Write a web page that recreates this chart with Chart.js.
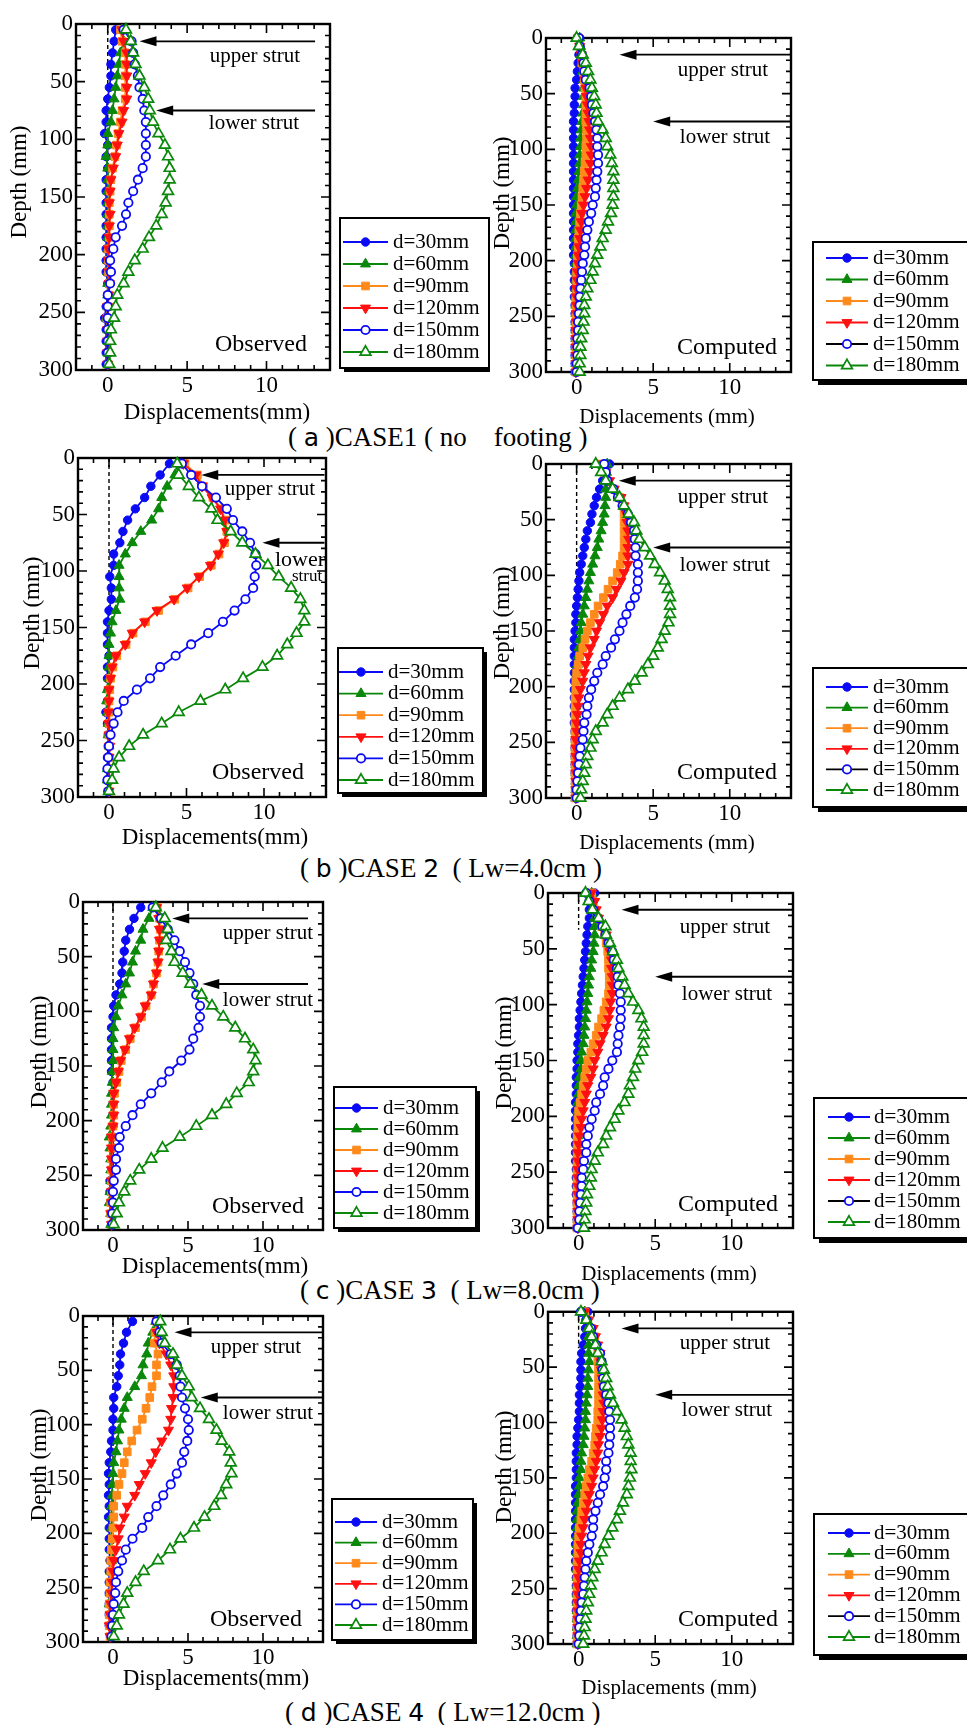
<!DOCTYPE html>
<html>
<head>
<meta charset="utf-8">
<script src="https://cdn.jsdelivr.net/npm/chart.js@4.4.1/dist/chart.umd.min.js"></script>
<style>
    body { margin: 0; background: #fff; width: 967px; height: 1725px; position: relative; overflow: hidden; }
    canvas { position: absolute; }
    .cap { position: absolute; font: 27px "Liberation Serif"; line-height: 30px; white-space: nowrap; color: #000; }
    .cap .g { font-family: "DejaVu Sans"; font-size: 25px; }
</style>
</head>
<body>
<div class="cap" style="left:288px;top:422px">( <span class="g">a</span> )CASE1 ( no&nbsp;&nbsp;&nbsp;&nbsp;footing )</div>
<div class="cap" style="left:300px;top:853px">( <span class="g">b</span> )CASE <span class="g">2</span> &nbsp;( Lw=4.0cm )</div>
<div class="cap" style="left:300px;top:1275px">( <span class="g">c</span> )CASE <span class="g">3</span> &nbsp;( Lw=8.0cm )</div>
<div class="cap" style="left:285px;top:1697px">( <span class="g">d</span> )CASE <span class="g">4</span> &nbsp;( Lw=12.0cm )</div>
<script>
'use strict';

const seriesLabels = ['d=30mm', 'd=60mm', 'd=90mm', 'd=120mm', 'd=150mm', 'd=180mm'];
const xTickValues = [0, 5, 10];

// measured depths (mm)
const obsDepth = [5, 15, 25, 35, 45, 55, 65, 75, 85, 95, 105, 115, 125, 135, 145, 155, 165, 175, 185, 195,
    205, 215, 225, 235, 245, 255, 265, 275, 285, 295];
// FEM output depths (mm)
const compDepth = [0, 7.5, 15, 22.5, 30, 37.5, 45, 52.5, 60, 67.5, 75, 82.5, 90, 97.5, 105, 112.5, 120, 127.5, 135, 142.5,
    150, 157.5, 165, 172.5, 180, 187.5, 195, 202.5, 210, 217.5, 225, 232.5, 240, 247.5, 255, 262.5, 270, 277.5, 285, 292.5, 300];

// CASE1 observed
const obsA30 = [0.5, 0.4, 0.3, 0.2, 0.2, 0.1, 0.0, -0.1, -0.1, -0.2, 0.0, -0.1, 0.0, -0.1, -0.1, -0.1, -0.1, -0.1, -0.1, -0.1, -0.1, -0.1, 0.0, 0.0, -0.1, -0.2, -0.1, -0.1, -0.1, -0.1];
const obsA60 = [0.9, 1.0, 0.8, 0.7, 0.6, 0.5, 0.4, 0.3, 0.2, 0.0, 0.0, -0.1, 0.0, 0.0, 0.0, 0.0, 0.0, 0.0, 0.0, 0.0, 0.0, 0.0, 0.0, 0.0, 0.0, -0.1, 0.0, 0.0, 0.0, 0.0];
const obsA90 = [0.8, 0.9, 1.1, 1.1, 1.1, 1.1, 1.1, 0.9, 0.8, 0.65, 0.55, 0.45, 0.3, 0.2, 0.15, 0.1, 0.1, 0.1, 0.1, 0.05, 0.05, 0.05, 0.1, 0.05, 0.0, -0.05, 0.0, 0.0, 0.0, 0.0];
const obsA120 = [0.9, 1.0, 1.2, 1.2, 1.2, 1.2, 1.2, 1.0, 0.9, 0.7, 0.6, 0.5, 0.35, 0.2, 0.15, 0.1, 0.15, 0.1, 0.1, 0.05, 0.05, 0.1, 0.1, 0.05, 0.0, 0.0, 0.0, 0.0, 0.0, 0.0];
const obsA150 = [1.0, 1.5, 1.6, 1.7, 1.9, 2.0, 2.2, 2.3, 2.4, 2.4, 2.4, 2.4, 2.2, 1.9, 1.6, 1.3, 1.15, 0.9, 0.5, 0.35, 0.15, 0.2, 0.15, 0.0, 0.0, 0.0, 0.0, 0.0, 0.0, 0.0];
const obsA180 = [1.15, 1.45, 1.6, 1.75, 2.0, 2.3, 2.55, 2.65, 2.85, 3.2, 3.6, 3.8, 3.9, 3.9, 3.8, 3.65, 3.4, 3.05, 2.6, 2.2, 1.7, 1.3, 1.0, 0.6, 0.5, 0.4, 0.2, 0.15, 0.15, 0.1];

// CASE1 computed
const compA30 = [0.2, 0.2, 0.15, 0.1, 0.05, 0.0, -0.1, -0.1, -0.15, -0.15, -0.2, -0.2, -0.2, -0.2, -0.2, -0.2, -0.2, -0.2, -0.2, -0.2,
    -0.2, -0.2, -0.2, -0.2, -0.2, -0.2, -0.2, -0.15, -0.15, -0.15, -0.15, -0.15, -0.1, -0.1, -0.1, -0.1, -0.1, -0.1, -0.1, -0.1, -0.1];
const compA60 = [0.2, 0.25, 0.3, 0.35, 0.4, 0.45, 0.45, 0.45, 0.45, 0.4, 0.35, 0.3, 0.25, 0.25, 0.2, 0.2, 0.15, 0.1, 0.05, 0.0,
    0.0, -0.05, -0.05, -0.05, -0.05, -0.05, -0.05, -0.05, -0.05, -0.05, -0.05, -0.05, -0.05, -0.05, -0.05, -0.05, -0.05, -0.05, -0.05, -0.05, -0.05];
const compA90 = [0.1, 0.2, 0.3, 0.35, 0.45, 0.5, 0.55, 0.6, 0.6, 0.6, 0.6, 0.65, 0.65, 0.6, 0.6, 0.55, 0.5, 0.45, 0.4, 0.35,
    0.3, 0.25, 0.2, 0.15, 0.1, 0.1, 0.05, 0.05, 0.0, 0.0, 0.0, -0.05, -0.05, -0.05, -0.05, -0.05, -0.05, -0.05, -0.05, -0.05, -0.05];
const compA120 = [0.1, 0.2, 0.3, 0.4, 0.5, 0.55, 0.6, 0.65, 0.7, 0.75, 0.8, 0.85, 0.9, 0.95, 0.95, 0.9, 0.85, 0.75, 0.65, 0.55,
    0.45, 0.35, 0.3, 0.25, 0.2, 0.15, 0.1, 0.1, 0.05, 0.05, 0.0, 0.0, 0.0, 0.0, 0.0, -0.05, -0.05, -0.05, -0.05, -0.05, -0.05];
const compA150 = [0.15, 0.2, 0.35, 0.45, 0.5, 0.6, 0.85, 0.95, 1.0, 1.1, 1.2, 1.3, 1.35, 1.35, 1.4, 1.4, 1.35, 1.3, 1.25, 1.2,
    1.05, 0.95, 0.8, 0.7, 0.6, 0.55, 0.5, 0.4, 0.35, 0.3, 0.25, 0.2, 0.2, 0.15, 0.1, 0.1, 0.05, 0.05, 0.05, 0.0, 0.0];
const compA180 = [0.0, 0.15, 0.4, 0.6, 0.75, 0.9, 1.0, 1.15, 1.25, 1.3, 1.4, 1.7, 1.9, 2.0, 2.2, 2.3, 2.4, 2.4, 2.4, 2.4,
    2.35, 2.25, 2.05, 1.9, 1.7, 1.55, 1.35, 1.2, 1.05, 0.9, 0.7, 0.6, 0.5, 0.5, 0.45, 0.4, 0.3, 0.25, 0.25, 0.2, 0.2];

// CASE2 observed
const obsB30 = [3.9, 3.3, 2.7, 2.3, 1.7, 1.2, 0.9, 0.7, 0.3, 0.3, 0.05, 0.15, 0.15, 0.0, -0.1, -0.1, -0.1, 0.0, -0.1, -0.1, -0.05, -0.1, -0.2, -0.1, -0.05, -0.05, -0.1, -0.1, -0.1, -0.05];
const obsB60 = [4.4, 4.25, 3.75, 3.4, 3.2, 2.75, 2.05, 1.5, 1.05, 0.65, 0.65, 0.65, 0.7, 0.45, 0.2, 0.1, 0.0, 0.0, 0.0, 0.0, -0.1, -0.15, -0.1, -0.05, -0.05, 0.0, 0.0, -0.1, -0.1, 0.0];
const obsB90 = [4.9, 5.7, 6.1, 6.7, 7.25, 7.5, 7.6, 7.45, 7.1, 6.6, 5.85, 5.1, 4.25, 3.2, 2.35, 1.55, 1.1, 0.5, 0.25, 0.1, 0.05, 0.0, 0.0, 0.0, 0.0, 0.0, 0.0, 0.0, 0.0, 0.0];
const obsB120 = [4.8, 5.6, 6.0, 6.65, 7.2, 7.45, 7.6, 7.4, 7.05, 6.55, 5.8, 5.05, 4.2, 3.1, 2.3, 1.5, 1.05, 0.45, 0.2, 0.1, 0.0, 0.0, -0.05, 0.0, 0.0, 0.05, 0.0, 0.0, 0.0, 0.0];
const obsB150 = [4.7, 5.3, 6.0, 6.9, 7.6, 8.0, 8.6, 9.1, 9.45, 9.5, 9.4, 9.3, 8.8, 8.1, 7.35, 6.4, 5.3, 4.3, 3.3, 2.65, 1.8, 0.95, 0.55, 0.3, 0.1, 0.0, -0.05, -0.1, -0.1, -0.05];
const obsB180 = [4.4, 4.5, 5.15, 5.8, 6.6, 7.0, 7.85, 8.6, 9.45, 10.25, 10.95, 11.75, 12.35, 12.6, 12.6, 12.1, 11.5, 10.85, 9.9, 8.65, 7.5, 5.9, 4.5, 3.4, 2.2, 1.3, 0.65, 0.3, 0.2, 0.0];

// CASE2 computed
const compB30 = [2.15, 1.9, 1.7, 1.5, 1.3, 1.15, 1.0, 0.9, 0.7, 0.6, 0.5, 0.4, 0.3, 0.2, 0.15, 0.1, 0.05, 0.0, -0.05, -0.05,
    -0.1, -0.15, -0.15, -0.15, -0.15, -0.15, -0.15, -0.15, -0.15, -0.15, -0.15, -0.15, -0.1, -0.1, -0.1, -0.1, -0.1, -0.1, -0.05, -0.05, -0.05];
const compB60 = [2.0, 1.95, 1.9, 1.9, 1.9, 1.85, 1.8, 1.7, 1.6, 1.45, 1.35, 1.2, 1.05, 0.9, 0.8, 0.7, 0.6, 0.5, 0.4, 0.3,
    0.25, 0.2, 0.15, 0.1, 0.05, 0.0, 0.0, -0.05, -0.05, -0.05, -0.05, -0.05, -0.05, -0.05, -0.05, -0.05, -0.05, -0.05, -0.05, -0.05, -0.05];
const compB90 = [1.6, 1.8, 2.0, 2.4, 2.8, 3.0, 3.1, 3.1, 3.1, 3.1, 3.1, 3.0, 2.85, 2.65, 2.35, 2.05, 1.75, 1.4, 1.15, 0.9,
    0.7, 0.55, 0.4, 0.2, 0.1, 0.0, -0.05, -0.05, -0.1, -0.1, -0.1, -0.1, -0.1, -0.1, -0.1, -0.1, -0.1, -0.1, -0.1, -0.1, -0.1];
const compB120 = [1.6, 1.9, 2.15, 2.45, 2.9, 3.1, 3.25, 3.3, 3.35, 3.4, 3.35, 3.35, 3.35, 3.1, 2.9, 2.6, 2.35, 2.0, 1.75, 1.5,
    1.3, 1.15, 0.9, 0.75, 0.6, 0.5, 0.4, 0.25, 0.15, 0.1, 0.05, 0.0, 0.0, -0.05, -0.05, -0.05, -0.05, -0.05, -0.05, -0.05, -0.05];
const compB150 = [1.8, 1.9, 2.0, 2.4, 2.7, 3.0, 3.35, 3.55, 3.75, 3.8, 3.85, 3.85, 4.0, 4.0, 4.0, 3.95, 3.8, 3.5, 3.25, 3.0,
    2.8, 2.5, 2.25, 1.9, 1.7, 1.35, 1.15, 0.95, 0.8, 0.7, 0.65, 0.5, 0.45, 0.4, 0.25, 0.2, 0.15, 0.1, 0.05, 0.0, 0.0];
const compB180 = [1.25, 1.6, 1.9, 2.35, 2.8, 3.1, 3.4, 3.75, 3.9, 4.1, 4.45, 4.8, 5.1, 5.45, 5.75, 5.95, 6.1, 6.1, 6.1, 6.0,
    5.75, 5.55, 5.3, 5.0, 4.65, 4.25, 3.8, 3.35, 2.8, 2.35, 2.0, 1.7, 1.25, 1.05, 0.9, 0.7, 0.6, 0.5, 0.4, 0.3, 0.25];

// CASE3 observed
const obsC30 = [1.85, 1.4, 1.1, 0.85, 0.75, 0.65, 0.6, 0.45, 0.2, 0.05, 0.0, -0.1, -0.1, -0.1, -0.1, -0.1, 0.0, 0.0, 0.0, 0.0, 0.0, 0.0, 0.0, 0.0, 0.0, -0.2, -0.2, -0.1, -0.1, -0.1];
const obsC60 = [2.65, 2.4, 2.0, 1.85, 1.5, 1.3, 1.1, 0.85, 0.6, 0.35, 0.2, 0.05, 0.0, 0.0, 0.0, -0.05, -0.05, -0.1, -0.1, -0.1, -0.15, -0.25, -0.2, -0.15, -0.15, -0.15, -0.2, -0.25, -0.15, -0.15];
const obsC90 = [2.95, 3.1, 3.15, 3.1, 3.05, 3.0, 2.9, 2.7, 2.55, 2.2, 1.9, 1.5, 1.15, 0.85, 0.55, 0.4, 0.25, 0.1, 0.05, 0.05, 0.0, -0.05, -0.05, -0.1, -0.1, -0.1, -0.1, -0.15, -0.15, -0.1];
const obsC120 = [2.9, 3.05, 3.1, 3.1, 3.05, 3.0, 2.9, 2.7, 2.55, 2.15, 1.85, 1.45, 1.1, 0.8, 0.5, 0.35, 0.2, 0.05, 0.05, 0.05, 0.0, -0.1, -0.1, -0.1, -0.1, -0.1, -0.1, -0.1, -0.15, -0.1];
const obsC150 = [2.65, 3.2, 3.65, 4.1, 4.45, 4.8, 5.1, 5.35, 5.55, 5.8, 5.8, 5.7, 5.35, 5.1, 4.55, 3.75, 3.25, 2.55, 1.85, 1.3, 0.85, 0.45, 0.4, 0.2, 0.2, 0.05, 0.0, 0.0, -0.05, -0.05];
const obsC180 = [2.85, 3.45, 3.65, 3.55, 3.9, 4.1, 4.65, 5.15, 5.9, 6.6, 7.35, 8.15, 8.8, 9.35, 9.5, 9.35, 9.05, 8.25, 7.55, 6.6, 5.55, 4.45, 3.3, 2.55, 1.75, 1.15, 0.75, 0.4, 0.25, 0.05];

// CASE3 computed
const compC30 = [1.05, 0.85, 0.7, 0.7, 0.6, 0.55, 0.5, 0.45, 0.4, 0.35, 0.3, 0.25, 0.2, 0.15, 0.1, 0.05, 0.05, 0.0, -0.05, -0.05,
    -0.1, -0.1, -0.15, -0.15, -0.15, -0.2, -0.2, -0.2, -0.2, -0.2, -0.2, -0.2, -0.2, -0.15, -0.15, -0.15, -0.15, -0.1, -0.1, -0.1, -0.1];
const compC60 = [0.85, 0.85, 0.95, 1.05, 1.05, 1.05, 1.0, 0.95, 0.85, 0.8, 0.7, 0.65, 0.6, 0.55, 0.5, 0.45, 0.4, 0.35, 0.3, 0.2,
    0.15, 0.15, 0.05, 0.0, 0.0, -0.05, -0.05, -0.05, -0.05, -0.05, -0.05, -0.05, -0.05, -0.05, -0.05, -0.05, -0.05, -0.05, -0.05, -0.05, -0.05];
const compC90 = [0.85, 0.95, 1.05, 1.25, 1.5, 1.7, 1.8, 1.9, 1.95, 1.95, 2.0, 2.0, 1.95, 1.8, 1.65, 1.5, 1.3, 1.15, 0.95, 0.8,
    0.6, 0.5, 0.4, 0.3, 0.2, 0.1, 0.0, -0.05, -0.05, -0.1, -0.1, -0.1, -0.1, -0.1, -0.1, -0.1, -0.1, -0.1, -0.1, -0.1, -0.1];
const compC120 = [0.85, 1.05, 1.15, 1.3, 1.55, 1.8, 1.95, 2.05, 2.15, 2.15, 2.2, 2.2, 2.2, 2.1, 2.05, 1.95, 1.8, 1.6, 1.4, 1.25,
    1.05, 0.95, 0.8, 0.6, 0.5, 0.4, 0.3, 0.2, 0.15, 0.05, 0.0, -0.05, -0.05, -0.05, -0.05, -0.05, -0.05, -0.05, -0.05, -0.05, -0.05];
const compC150 = [0.5, 0.7, 0.95, 1.25, 1.55, 1.75, 1.95, 2.2, 2.3, 2.5, 2.55, 2.6, 2.7, 2.75, 2.75, 2.75, 2.7, 2.6, 2.55, 2.5,
    2.2, 1.95, 1.7, 1.6, 1.4, 1.15, 1.05, 0.85, 0.7, 0.6, 0.5, 0.5, 0.35, 0.3, 0.2, 0.2, 0.15, 0.1, 0.05, 0.05, -0.05];
const compC180 = [0.45, 0.65, 0.9, 1.3, 1.75, 1.8, 2.05, 2.25, 2.5, 2.6, 2.85, 3.0, 3.25, 3.55, 3.9, 4.1, 4.25, 4.25, 4.25, 4.15,
    3.9, 3.7, 3.55, 3.35, 3.25, 3.0, 2.6, 2.35, 2.05, 1.8, 1.6, 1.25, 1.05, 0.85, 0.8, 0.7, 0.55, 0.5, 0.45, 0.4, 0.35];

// CASE4 observed
const obsD30 = [1.3, 0.9, 0.7, 0.5, 0.45, 0.35, 0.25, 0.05, 0.05, 0.0, 0.0, -0.1, -0.15, -0.25, -0.3, -0.25, -0.3, -0.25, -0.3, -0.25, -0.25, -0.25, -0.2, -0.25, -0.25, -0.25, -0.25, -0.25, -0.25, -0.15];
const obsD60 = [2.85, 2.65, 2.35, 2.25, 2.0, 1.9, 1.45, 0.95, 0.75, 0.55, 0.4, 0.3, 0.2, 0.05, 0.0, -0.05, -0.05, -0.1, -0.1, -0.1, -0.1, -0.1, -0.1, -0.15, -0.15, -0.2, -0.25, -0.15, -0.1, -0.05];
const obsD90 = [2.9, 2.8, 2.75, 3.0, 2.9, 2.9, 2.6, 2.45, 2.2, 1.95, 1.6, 1.25, 0.95, 0.75, 0.6, 0.4, 0.25, 0.05, 0.05, 0.0, -0.05, -0.1, -0.15, -0.15, -0.2, -0.2, -0.25, -0.25, -0.25, -0.2];
const obsD120 = [3.0, 2.9, 3.1, 3.55, 3.85, 4.05, 4.05, 4.0, 3.9, 3.85, 3.7, 3.25, 2.85, 2.55, 2.15, 1.75, 1.45, 0.95, 0.75, 0.45, 0.35, 0.2, 0.05, 0.0, -0.05, -0.1, -0.15, -0.2, -0.25, -0.2];
const obsD150 = [2.9, 3.1, 3.25, 3.85, 4.25, 4.45, 4.5, 4.6, 4.8, 5.0, 5.05, 4.95, 4.75, 4.6, 4.25, 3.85, 3.35, 2.9, 2.35, 1.95, 1.3, 0.85, 0.6, 0.35, 0.2, 0.15, 0.05, 0.0, -0.05, -0.1];
const obsD180 = [3.15, 3.25, 3.45, 4.0, 4.25, 4.6, 5.05, 5.25, 5.8, 6.4, 6.9, 7.25, 7.75, 7.85, 7.9, 7.55, 7.2, 6.75, 6.1, 5.4, 4.5, 3.8, 3.0, 2.05, 1.5, 0.95, 0.7, 0.4, 0.25, 0.05];

// CASE4 computed
const compD30 = [0.6, 0.5, 0.45, 0.4, 0.3, 0.2, 0.15, 0.15, 0.15, 0.1, 0.05, 0.05, 0.05, 0.0, -0.05, -0.1, -0.1, -0.15, -0.15, -0.15,
    -0.15, -0.2, -0.2, -0.2, -0.2, -0.2, -0.2, -0.2, -0.2, -0.2, -0.2, -0.2, -0.15, -0.15, -0.15, -0.15, -0.15, -0.1, -0.1, -0.1, -0.1];
const compD60 = [0.4, 0.5, 0.6, 0.65, 0.65, 0.65, 0.7, 0.65, 0.6, 0.6, 0.55, 0.5, 0.45, 0.45, 0.4, 0.35, 0.3, 0.2, 0.15, 0.15,
    0.05, 0.05, 0.0, -0.05, -0.1, -0.1, -0.1, -0.1, -0.1, -0.1, -0.1, -0.1, -0.1, -0.1, -0.1, -0.1, -0.1, -0.1, -0.1, -0.1, -0.1];
const compD90 = [0.4, 0.6, 0.85, 1.05, 1.15, 1.25, 1.25, 1.3, 1.3, 1.3, 1.3, 1.3, 1.25, 1.25, 1.15, 1.1, 1.05, 0.95, 0.85, 0.7,
    0.6, 0.5, 0.4, 0.3, 0.2, 0.15, 0.05, 0.0, -0.05, -0.05, -0.1, -0.1, -0.1, -0.1, -0.1, -0.1, -0.1, -0.1, -0.1, -0.1, -0.1];
const compD120 = [0.4, 0.65, 0.95, 1.1, 1.25, 1.4, 1.45, 1.5, 1.55, 1.6, 1.6, 1.65, 1.6, 1.55, 1.5, 1.4, 1.3, 1.25, 1.15, 1.05,
    0.95, 0.85, 0.7, 0.6, 0.5, 0.4, 0.3, 0.2, 0.15, 0.15, 0.05, 0.0, 0.0, -0.05, -0.05, -0.05, -0.05, -0.05, -0.05, -0.05, -0.05];
const compD150 = [0.15, 0.5, 0.8, 0.95, 1.15, 1.4, 1.5, 1.55, 1.6, 1.65, 1.8, 1.95, 2.0, 2.05, 2.05, 2.05, 2.0, 1.95, 1.8, 1.8,
    1.7, 1.6, 1.4, 1.25, 1.1, 0.95, 0.95, 0.85, 0.7, 0.6, 0.5, 0.45, 0.4, 0.35, 0.3, 0.2, 0.15, 0.1, 0.05, 0.05, 0.0];
const compD180 = [0.15, 0.5, 0.7, 0.85, 1.1, 1.25, 1.5, 1.65, 1.8, 1.9, 2.05, 2.25, 2.5, 2.8, 3.0, 3.15, 3.25, 3.4, 3.4, 3.45,
    3.35, 3.25, 3.15, 2.9, 2.7, 2.5, 2.2, 1.95, 1.7, 1.5, 1.25, 1.05, 0.9, 0.8, 0.7, 0.6, 0.5, 0.45, 0.4, 0.35, 0.3];


const BLUE = '#0a0af5', GREEN = '#0a880a', ORANGE = '#ff8a1c', RED = '#ff1010';

// marker look per series, same order as seriesLabels
const looks = [
    { color: BLUE, fill: BLUE, style: 'circle', r: 4.2, rot: 0, bw: 1 },
    { color: GREEN, fill: GREEN, style: 'triangle', r: 5.8, rot: 0, bw: 1 },
    { color: ORANGE, fill: ORANGE, style: 'rect', r: 5.4, rot: 0, bw: 1 },
    { color: RED, fill: RED, style: 'triangle', r: 5.8, rot: 180, bw: 1 },
    { color: BLUE, fill: '#fff', style: 'circle', r: 4.2, rot: 0, bw: 1.8 },
    { color: GREEN, fill: '#fff', style: 'triangle', r: 6.2, rot: 0, bw: 1.7 }
];

// page layout of the eight panels (pixel positions are page coordinates)
const panels = [
    { computed: false, series: [obsA30, obsA60, obsA90, obsA120, obsA150, obsA180],
        cv: [0, 0, 490, 428], plot: [76, 24, 330, 370], zero: [0, 300],
        arrows: [[15, 13.06, 2.0], [75, 13.06, 3.05]],
        xTitle: [217, 413], yTitle: [20, 182], tag: [261, 345], upper: [255, 56], lower: [254, 123],
        legend: { box: [340, 218, 149, 150], row0: 242, step: 22, line: [343, 388], text: 393, shadow: 4 } },
    { computed: true, series: [compA30, compA60, compA90, compA120, compA150, compA180],
        cv: [490, 0, 477, 428], plot: [546, 38, 791, 372], zero: [0, 33],
        arrows: [[15, 14, 2.8], [75, 14, 5.0]],
        xTitle: [667, 417], yTitle: [503, 193], tag: [727, 348], upper: [723, 70], lower: [725, 137],
        legend: { box: [813, 242, 160, 138], row0: 258, step: 21.5, line: [826, 868], text: 873, shadow: 5 } },
    { computed: false, series: [obsB30, obsB60, obsB90, obsB120, obsB150, obsB180],
        cv: [0, 440, 490, 420], plot: [78, 458, 326, 797], zero: [0, 300],
        arrows: [[15, 13.9, 5.95], [75, 13.9, 9.9]],
        xTitle: [215, 838], yTitle: [33, 613], tag: [258, 773], upper: [270, 489], lowerSplit: [[300, 560], [307, 577]],
        legend: { box: [338, 648, 145, 145], row0: 672, step: 21.6, line: [339, 383], text: 388, shadow: 4 } },
    { computed: true, series: [compB30, compB60, compB90, compB120, compB150, compB180],
        cv: [490, 440, 477, 420], plot: [546, 464, 791, 798], zero: [0, 300],
        arrows: [[15, 14, 2.75], [75, 14, 5.0]],
        xTitle: [667, 843], yTitle: [503, 623], tag: [727, 773], upper: [723, 497], lower: [725, 565],
        legend: { box: [813, 668, 160, 139], row0: 687, step: 20.6, line: [826, 868], text: 873, shadow: 5 } },
    { computed: false, series: [obsC30, obsC60, obsC90, obsC120, obsC150, obsC180],
        cv: [0, 870, 490, 418], plot: [83, 902, 323, 1230], zero: [0, 300],
        arrows: [[15, 13.0, 3.95], [75, 13.0, 5.95]],
        xTitle: [215, 1267], yTitle: [40, 1052], tag: [258, 1207], upper: [268, 933], lower: [268, 1000],
        legend: { box: [334, 1087, 142, 141], row0: 1108, step: 21, line: [335, 378], text: 383, shadow: 4 } },
    { computed: true, series: [compC30, compC60, compC90, compC120, compC150, compC180],
        cv: [490, 870, 477, 418], plot: [548, 893, 793, 1228], zero: [0, 33],
        arrows: [[15, 14, 2.8], [75, 14, 5.0]],
        xTitle: [669, 1274], yTitle: [505, 1053], tag: [728, 1205], upper: [725, 927], lower: [727, 994],
        legend: { box: [814, 1098, 160, 140], row0: 1117, step: 21, line: [828, 870], text: 874, shadow: 5 } },
    { computed: false, series: [obsD30, obsD60, obsD90, obsD120, obsD150, obsD180],
        cv: [0, 1295, 490, 410], plot: [83, 1316, 323, 1642], zero: [0, 300],
        arrows: [[15, 14, 4.1], [75, 14, 5.85]],
        xTitle: [216, 1679], yTitle: [40, 1465], tag: [256, 1620], upper: [256, 1347], lower: [268, 1413],
        legend: { box: [332, 1499, 141, 141], row0: 1522, step: 20.6, line: [335, 377], text: 382, shadow: 4 } },
    { computed: true, series: [compD30, compD60, compD90, compD120, compD150, compD180],
        cv: [490, 1295, 477, 410], plot: [548, 1311, 793, 1644], zero: [0, 33],
        arrows: [[15, 14, 2.8], [75, 14, 5.0]],
        xTitle: [669, 1688], yTitle: [505, 1467], tag: [728, 1620], upper: [725, 1343], lower: [727, 1410],
        legend: { box: [814, 1514, 160, 141], row0: 1533, step: 20.8, line: [828, 870], text: 874, shadow: 5 } }
];

const SERIF = '"Liberation Serif", "Times New Roman", serif';
const Y_AXIS_W = 40, X_AXIS_H = 30;

function lineColorOf(p, i) {
    // the d=150mm computed curve is drawn with a black line
    return (p.computed && i === 4) ? '#000' : looks[i].color;
}

function buildDatasets(p) {
    const depth = p.computed ? compDepth : obsDepth;
    const sets = p.series.map((vals, i) => {
        const lk = looks[i];
        return {
            label: seriesLabels[i],
            data: vals.map((v, j) => ({ x: v, y: depth[j] })),
            showLine: true,
            borderColor: lineColorOf(p, i),
            borderWidth: 1.8,
            pointStyle: lk.style,
            pointRadius: lk.r,
            pointRotation: lk.rot,
            pointBackgroundColor: lk.fill,
            pointBorderColor: lk.color,
            pointBorderWidth: lk.bw,
            order: 6 - i,
            clip: false
        };
    });
    // dashed zero-displacement reference
    sets.push({
        label: 'zero',
        data: [{ x: 0, y: p.zero[0] }, { x: 0, y: p.zero[1] }],
        showLine: true, borderColor: '#000', borderWidth: 1.4, borderDash: [4, 3],
        pointRadius: 0, order: 20, clip: false
    });
    return sets;
}

function text(ctx, str, x, y, size, align, rotate) {
    ctx.save();
    ctx.font = size + 'px ' + SERIF;
    ctx.fillStyle = '#000';
    ctx.textAlign = align || 'center';
    ctx.textBaseline = 'middle';
    ctx.translate(x, y);
    if (rotate)
        ctx.rotate(rotate);
    ctx.fillText(str, 0, 0);
    ctx.restore();
}

function marker(ctx, lk, x, y) {
    ctx.fillStyle = lk.fill;
    ctx.strokeStyle = lk.color;
    ctx.lineWidth = lk.bw;
    Chart.helpers.drawPoint(ctx, { pointStyle: lk.style, radius: lk.r, rotation: lk.rot, borderWidth: lk.bw }, x, y);
}

function decor(p) {
    const px = v => v - p.cv[0];
    const py = v => v - p.cv[1];
    return {
        id: 'decor',
        beforeDatasetsDraw(chart) {
            const { ctx, chartArea: a, scales: { x, y } } = chart;
            ctx.save();
            ctx.strokeStyle = '#000';
            ctx.lineWidth = 1.6;
            ctx.beginPath();
            // inward ticks on all four sides
            for (let v = -2; v <= 14; v++) {
                const X = x.getPixelForValue(v);
                const len = v % 5 === 0 ? 9 : 5;
                ctx.moveTo(X, a.bottom); ctx.lineTo(X, a.bottom - len);
                ctx.moveTo(X, a.top); ctx.lineTo(X, a.top + len);
            }
            for (let v = 0; v <= 300; v += 10) {
                const Y = y.getPixelForValue(v);
                const len = v % 50 === 0 ? 9 : 5;
                ctx.moveTo(a.left, Y); ctx.lineTo(a.left + len, Y);
                ctx.moveTo(a.right, Y); ctx.lineTo(a.right - len, Y);
            }
            ctx.stroke();
            ctx.lineWidth = 2.4;
            ctx.strokeRect(a.left, a.top, a.right - a.left, a.bottom - a.top);
            ctx.restore();
        },
        afterDatasetsDraw(chart) {
            const { ctx, scales: { x, y } } = chart;
            ctx.save();
            ctx.strokeStyle = '#000';
            ctx.fillStyle = '#000';
            ctx.lineWidth = 1.8;
            for (const [depth, from, tip] of p.arrows) {
                const Y = y.getPixelForValue(depth);
                const X0 = x.getPixelForValue(from);
                const X1 = x.getPixelForValue(tip);
                ctx.beginPath();
                ctx.moveTo(X0, Y);
                ctx.lineTo(X1 + 12, Y);
                ctx.stroke();
                ctx.beginPath();
                ctx.moveTo(X1, Y);
                ctx.lineTo(X1 + 17, Y - 5);
                ctx.lineTo(X1 + 17, Y + 5);
                ctx.closePath();
                ctx.fill();
            }
            ctx.restore();

            text(ctx, 'upper strut', px(p.upper[0]), py(p.upper[1]), 21);
            if (p.lowerSplit) {
                text(ctx, 'lower', px(p.lowerSplit[0][0]), py(p.lowerSplit[0][1]), 22);
                text(ctx, 'strut', px(p.lowerSplit[1][0]), py(p.lowerSplit[1][1]), 17);
            }
            else
                text(ctx, 'lower strut', px(p.lower[0]), py(p.lower[1]), 21);
            text(ctx, p.computed ? 'Computed' : 'Observed', px(p.tag[0]), py(p.tag[1]), 24);
            text(ctx, p.computed ? 'Displacements (mm)' : 'Displacements(mm)', px(p.xTitle[0]), py(p.xTitle[1]), p.computed ? 21 : 23);
            text(ctx, 'Depth (mm)', px(p.yTitle[0]), py(p.yTitle[1]), 23, 'center', -Math.PI / 2);
        },
        afterDraw(chart) {
            const ctx = chart.ctx;
            const L = p.legend;
            const [bx, by, bw, bh] = L.box;
            ctx.save();
            ctx.fillStyle = '#000';
            ctx.fillRect(px(bx) + L.shadow, py(by) + L.shadow, bw, bh);
            ctx.fillStyle = '#fff';
            ctx.fillRect(px(bx), py(by), bw, bh);
            ctx.strokeStyle = '#000';
            ctx.lineWidth = 2;
            ctx.strokeRect(px(bx), py(by), bw, bh);
            seriesLabels.forEach((label, i) => {
                const ry = py(L.row0 + i * L.step);
                ctx.strokeStyle = lineColorOf(p, i);
                ctx.lineWidth = 1.8;
                ctx.beginPath();
                ctx.moveTo(px(L.line[0]), ry);
                ctx.lineTo(px(L.line[1]), ry);
                ctx.stroke();
                marker(ctx, looks[i], px((L.line[0] + L.line[1]) / 2), ry);
                text(ctx, label, px(L.text), ry, 21, 'left');
            });
            ctx.restore();
        }
    };
}

Chart.defaults.font.family = SERIF;
Chart.defaults.color = '#000';

for (const p of panels) {
    const [cx, cy, cw, ch] = p.cv;
    const [l, t, r, b] = p.plot;
    const canvas = document.createElement('canvas');
    canvas.width = cw;
    canvas.height = ch;
    canvas.style.left = cx + 'px';
    canvas.style.top = cy + 'px';
    canvas.style.width = cw + 'px';
    canvas.style.height = ch + 'px';
    document.body.appendChild(canvas);

    new Chart(canvas.getContext('2d'), {
        type: 'scatter',
        data: { datasets: buildDatasets(p) },
        options: {
            responsive: false,
            devicePixelRatio: 1,
            animation: false,
            events: [],
            layout: {
                padding: { left: l - cx - Y_AXIS_W, top: t - cy, right: cx + cw - r, bottom: cy + ch - b - X_AXIS_H }
            },
            plugins: { legend: { display: false }, tooltip: { enabled: false } },
            scales: {
                x: {
                    type: 'linear', min: -2, max: 14,
                    grid: { display: false, drawTicks: false },
                    border: { display: false },
                    ticks: { font: { size: 23 }, color: '#000', padding: 2 },
                    afterBuildTicks: s => { s.ticks = xTickValues.map(v => ({ value: v })); },
                    afterFit: s => { s.height = X_AXIS_H; }
                },
                y: {
                    type: 'linear', reverse: true, min: 0, max: 300,
                    grid: { display: false, drawTicks: false },
                    border: { display: false },
                    ticks: { stepSize: 50, font: { size: 23 }, color: '#000', padding: 3 },
                    afterFit: s => { s.width = Y_AXIS_W; }
                }
            }
        },
        plugins: [decor(p)]
    });
}
</script>
</body>
</html>
